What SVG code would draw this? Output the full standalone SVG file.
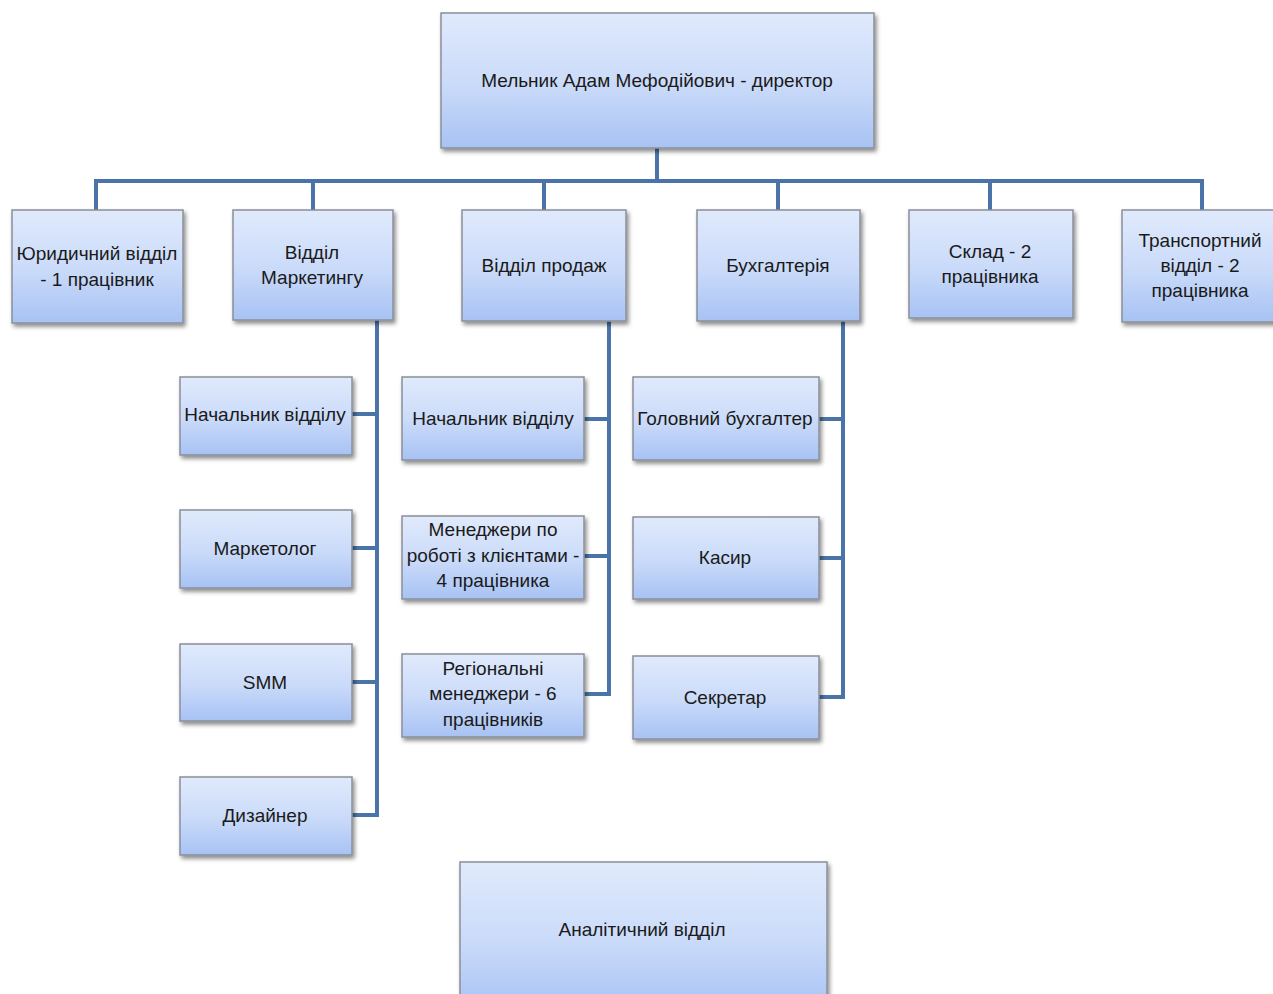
<svg xmlns="http://www.w3.org/2000/svg" width="1273" height="994" viewBox="0 0 1273 994">
<defs>
<linearGradient id="g" x1="0" y1="0" x2="0" y2="1">
<stop offset="0" stop-color="#e0eafc"/>
<stop offset="0.55" stop-color="#c9daf9"/>
<stop offset="1" stop-color="#a7c2f4"/>
</linearGradient>
<filter id="sh" x="-10%" y="-10%" width="125%" height="130%">
<feDropShadow dx="2" dy="3" stdDeviation="2" flood-color="#000" flood-opacity="0.45"/>
</filter>
</defs>
<style>
.b{fill:url(#g);stroke:#8a8f99;stroke-width:1.5;filter:url(#sh)}
.t{font-family:"Liberation Sans",Arial,sans-serif;font-size:19px;fill:#1a1a1a;text-anchor:middle;dominant-baseline:central}
.c{fill:none;stroke:#4a74a8;stroke-width:4;stroke-linejoin:miter}
</style>
<rect width="1273" height="994" fill="#fff"/>
<g id="connectors">
<path class="c" d="M657 148V181M96 210V181H1202V210M313 181V210M544 181V210M778 181V210M990 181V210"/>
<path class="c" d="M377 320V815H352M352 414H377M352 548H377M352 682H377"/>
<path class="c" d="M609 321V694H584M584 419H609M584 556H609"/>
<path class="c" d="M843 321V697H818M818 419H843M818 558H843"/>
</g>
<g id="director"><rect class="b" x="441" y="13" width="433" height="135"/><text class="t" x="657" y="80">Мельник Адам Мефодійович - директор</text></g>
<g id="legal"><rect class="b" x="12" y="210" width="171" height="113"/><text class="t" x="97" y="253">Юридичний відділ</text><text class="t" x="97" y="279">- 1 працівник</text></g>
<g id="marketing"><rect class="b" x="233" y="210" width="160" height="110"/><text class="t" x="312" y="252">Відділ</text><text class="t" x="312" y="277">Маркетингу</text></g>
<g id="sales"><rect class="b" x="462" y="210" width="164" height="111"/><text class="t" x="544" y="265">Відділ продаж</text></g>
<g id="accounting"><rect class="b" x="697" y="210" width="163" height="111"/><text class="t" x="778" y="265">Бухгалтерія</text></g>
<g id="warehouse"><rect class="b" x="909" y="210" width="164" height="108"/><text class="t" x="990" y="251">Склад - 2</text><text class="t" x="990" y="276">працівника</text></g>
<g id="transport"><rect class="b" x="1122" y="210" width="160" height="112"/><text class="t" x="1200" y="240">Транспортний</text><text class="t" x="1200" y="265">відділ - 2</text><text class="t" x="1200" y="290">працівника</text></g>
<g id="mkt-head"><rect class="b" x="180" y="377" width="172" height="78"/><text class="t" x="265" y="414">Начальник відділу</text></g>
<g id="marketer"><rect class="b" x="180" y="510" width="172" height="78"/><text class="t" x="265" y="548">Маркетолог</text></g>
<g id="smm"><rect class="b" x="180" y="644" width="172" height="77"/><text class="t" x="265" y="682">SMM</text></g>
<g id="designer"><rect class="b" x="180" y="777" width="172" height="78"/><text class="t" x="265" y="815">Дизайнер</text></g>
<g id="sales-head"><rect class="b" x="402" y="377" width="182" height="83"/><text class="t" x="493" y="418">Начальник відділу</text></g>
<g id="client-mgrs"><rect class="b" x="402" y="516" width="182" height="83"/><text class="t" x="493" y="529">Менеджери по</text><text class="t" x="493" y="555">роботі з клієнтами -</text><text class="t" x="493" y="580">4 працівника</text></g>
<g id="regional"><rect class="b" x="402" y="654" width="182" height="83"/><text class="t" x="493" y="668">Регіональні</text><text class="t" x="493" y="693">менеджери - 6</text><text class="t" x="493" y="719">працівників</text></g>
<g id="chief-acc"><rect class="b" x="633" y="377" width="186" height="83"/><text class="t" x="725" y="418">Головний бухгалтер</text></g>
<g id="cashier"><rect class="b" x="633" y="517" width="186" height="82"/><text class="t" x="725" y="557">Касир</text></g>
<g id="secretary"><rect class="b" x="633" y="656" width="186" height="83"/><text class="t" x="725" y="697">Секретар</text></g>
<g id="analytics"><rect class="b" x="460" y="862" width="367" height="150"/><text class="t" x="642" y="929">Аналітичний відділ</text></g>
</svg>
